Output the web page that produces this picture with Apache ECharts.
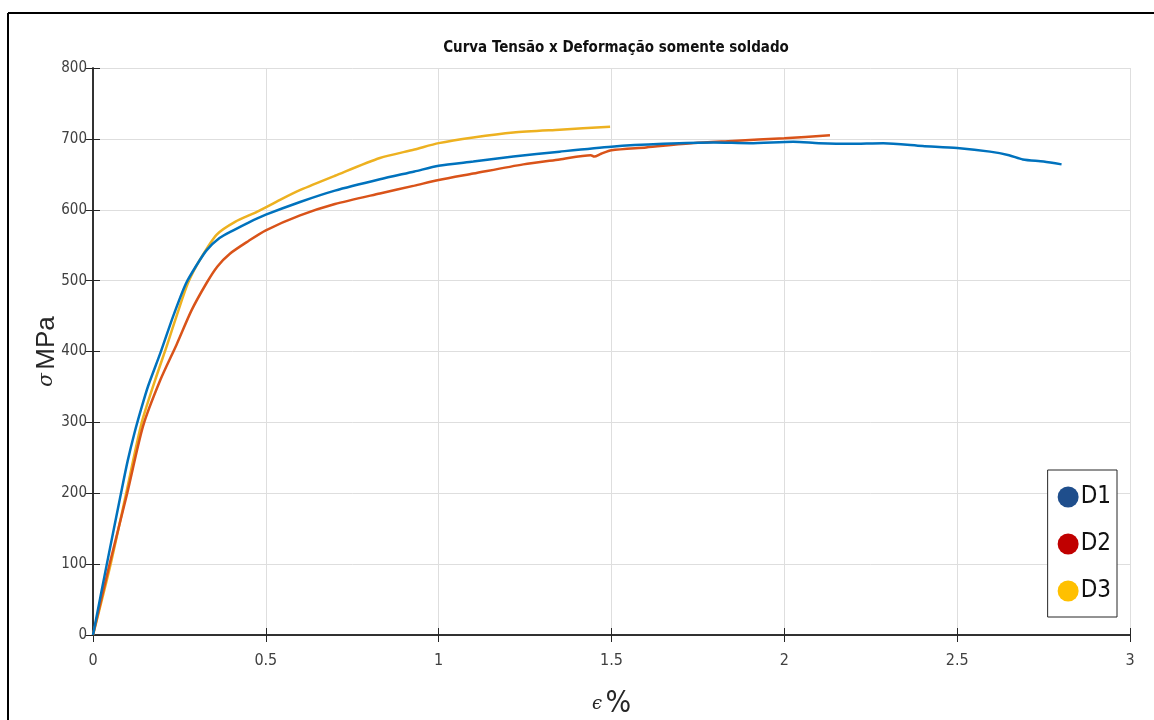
<!DOCTYPE html>
<html>
<head>
<meta charset="utf-8">
<script src="https://cdn.jsdelivr.net/npm/echarts@6/dist/echarts.min.js"></script>
<style>
  html, body { margin: 0; padding: 0; background: #fff; }
  #chart { width: 1154px; height: 720px; }
</style>
</head>
<body>
<div id="chart"></div>
<script>
  // leituras da curva (deformação %, tensão MPa)
  var d1Strain = [0, 0.040, 0.081, 0.100, 0.120, 0.140, 0.160, 0.195, 0.232, 0.268, 0.300, 0.329, 0.366, 0.406, 0.450, 0.500, 0.599, 0.700, 0.830, 0.930, 1.000, 1.100, 1.216, 1.350, 1.500, 1.650, 1.795, 1.900, 2.026, 2.100, 2.190, 2.286, 2.400, 2.500, 2.595, 2.650, 2.690, 2.750, 2.802]
  var d1Stress = [0, 100, 200, 245, 285, 320, 352, 398, 450, 495, 522, 543, 560, 571, 582, 593, 611, 627, 643, 654, 662, 668, 675, 682, 689, 693, 695, 694, 696, 694, 693, 694, 690, 687, 682, 677, 671, 668, 664]

  var d2Strain = [0, 0.048, 0.099, 0.145, 0.195, 0.242, 0.285, 0.329, 0.360, 0.396, 0.450, 0.500, 0.599, 0.700, 0.830, 0.930, 1.000, 1.100, 1.245, 1.350, 1.440, 1.450, 1.470, 1.500, 1.600, 1.737, 1.850, 2.000, 2.132]
  var d2Stress = [0, 100, 200, 295, 360, 410, 458, 497, 520, 538, 556, 571, 592, 608, 623, 634, 642, 651, 664, 671, 677, 675, 679, 684, 688, 694, 697, 701, 705]

  var d3Strain = [0, 0.051, 0.096, 0.140, 0.180, 0.215, 0.245, 0.275, 0.310, 0.358, 0.411, 0.474, 0.541, 0.600, 0.700, 0.830, 0.930, 1.000, 1.100, 1.216, 1.350, 1.496]
  var d3Stress = [0, 100, 200, 298, 360, 410, 455, 497, 530, 565, 583, 597, 614, 628, 648, 673, 685, 694, 702, 709, 713, 717]

  var seriesNames = ['D1', 'D2', 'D3']
  var lineColors = ['#0072BD', '#D95319', '#EDB120']
  var legendColors = ['#1F4E8C', '#C00000', '#FFC000']

  function pairs(xs, ys) {
    return xs.map(function (x, i) { return [x, ys[i]] })
  }

  var narrow = "'Liberation Sans Narrow', 'DejaVu Sans Condensed', 'Roboto', sans-serif"
  var axisColor = '#262626'

  var chart = echarts.init(document.getElementById('chart'))
  chart.setOption({
    backgroundColor: '#fff',
    animation: false,
    title: {
      text: 'Curva Tensão x Deformação somente soldado',
      left: 611,
      top: 36,
      textAlign: 'center',
      textStyle: {
        fontFamily: narrow,
        fontSize: 15,
        fontWeight: 'bold',
        color: '#111'
      }
    },
    graphic: [
      // moldura externa (só topo e lado esquerdo aparecem)
      { type: 'line', shape: { x1: 8, y1: 13, x2: 1154, y2: 13 }, style: { stroke: '#000', lineWidth: 2 } },
      { type: 'line', shape: { x1: 8, y1: 13, x2: 8, y2: 720 }, style: { stroke: '#000', lineWidth: 2 } }
    ],
    legend: {
      orient: 'vertical',
      right: 37,
      top: 470,
      icon: 'circle',
      itemWidth: 21,
      itemHeight: 21,
      itemGap: 23,
      padding: [15, 6, 14, 10],
      borderColor: axisColor,
      borderWidth: 1,
      backgroundColor: '#fff',
      textStyle: {
        fontFamily: narrow,
        fontSize: 24,
        color: '#111',
        padding: [0, 0, 0, -3]
      },
      data: seriesNames.map(function (n, i) {
        return { name: n, itemStyle: { color: legendColors[i] } }
      })
    },
    grid: {
      left: 93,
      right: 24,
      top: 68,
      bottom: 85,
      containLabel: false,
      outerBoundsMode: 'none'
    },
    xAxis: [{
      type: 'value',
      min: 0,
      max: 3,
      interval: 0.5,
      name: '{e|ϵ} {p|%}',
      nameLocation: 'middle',
      nameGap: 54,
      nameMoveOverlap: false,
      nameTextStyle: {
        rich: {
          e: { fontFamily: "'DejaVu Serif', serif", fontStyle: 'italic', fontSize: 18, color: '#262626' },
          p: { fontFamily: narrow, fontSize: 30, color: '#262626' }
        }
      },
      axisLine: { lineStyle: { color: axisColor, width: 1.5 } },
      axisTick: { inside: true, length: 7, lineStyle: { color: axisColor } },
      axisLabel: { fontFamily: narrow, fontSize: 16, color: '#404040', margin: 18 },
      splitLine: { show: true, lineStyle: { color: '#dedede', width: 1 } }
    }, {
      type: 'value',
      position: 'top',
      min: 0,
      max: 3,
      interval: 0.5,
      axisLine: { lineStyle: { color: axisColor, width: 1.5 } },
      axisTick: { inside: true, length: 7, lineStyle: { color: axisColor } },
      axisLabel: { show: false },
      splitLine: { show: false }
    }],
    yAxis: [{
      type: 'value',
      min: 0,
      max: 800,
      interval: 100,
      name: '{s|σ} {m|MPa}',
      nameLocation: 'middle',
      nameRotate: 90,
      nameGap: 33,
      nameMoveOverlap: false,
      nameTextStyle: {
        rich: {
          s: { fontFamily: "'DejaVu Serif', serif", fontStyle: 'italic', fontSize: 20, color: '#262626' },
          m: { fontFamily: "'Liberation Sans', Arial, sans-serif", fontSize: 26, color: '#262626' }
        }
      },
      axisLine: { show: true, lineStyle: { color: axisColor, width: 1.5 } },
      axisTick: { show: true, inside: true, length: 7, lineStyle: { color: axisColor } },
      axisLabel: { fontFamily: narrow, fontSize: 15, color: '#404040', margin: 6 },
      splitLine: { show: true, lineStyle: { color: '#dedede', width: 1 } }
    }, {
      type: 'value',
      position: 'right',
      min: 0,
      max: 800,
      interval: 100,
      axisLine: { show: true, lineStyle: { color: axisColor, width: 1.5 } },
      axisTick: { show: true, inside: true, length: 7, lineStyle: { color: axisColor } },
      axisLabel: { show: false },
      splitLine: { show: false }
    }],
    series: [
      { name: 'D1', data: pairs(d1Strain, d1Stress) },
      { name: 'D2', data: pairs(d2Strain, d2Stress) },
      { name: 'D3', data: pairs(d3Strain, d3Stress) }
    ].map(function (s, i) {
      return {
        name: s.name,
        type: 'line',
        xAxisIndex: 0,
        yAxisIndex: 0,
        data: s.data,
        smooth: 0.25,
        showSymbol: false,
        color: lineColors[i],
        lineStyle: { width: 2.5, color: lineColors[i] },
        z: 3 - i
      }
    })
  })
</script>
</body>
</html>
